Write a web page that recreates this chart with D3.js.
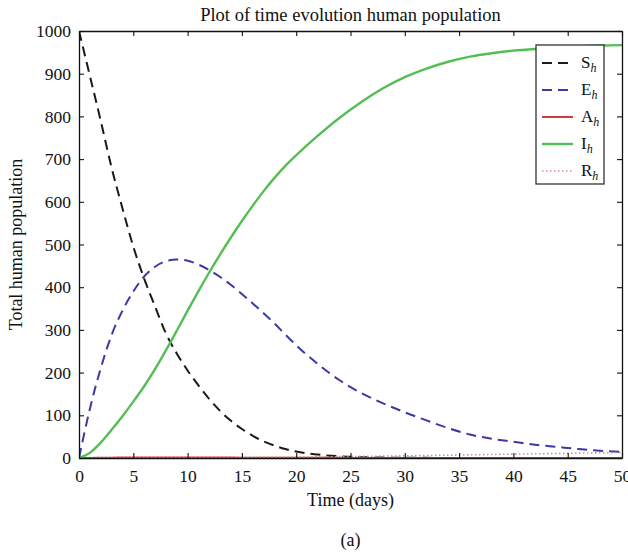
<!DOCTYPE html>
<html>
<head>
<meta charset="utf-8">
<script src="https://cdn.jsdelivr.net/npm/d3@7"></script>
<style>
    body { margin: 0; background: #fff; }
    text { font-family: "Liberation Serif", "DejaVu Serif", serif; fill: #111; }
</style>
</head>
<body>
<div id="chart"></div>
<script>
// Time points (days)
const days = [0, 1, 2, 3, 4, 5, 6, 7, 8, 9, 10, 11, 12, 13, 14, 15, 16, 17, 18, 19, 20,
    22, 24, 26, 28, 30, 32, 34, 36, 38, 40, 42, 44, 46, 48, 50];

// Series values
const sh = [1000, 895, 790, 680, 585, 495, 420, 355, 292, 245, 205, 170, 138, 110, 87, 68, 52, 39, 29, 21, 15,
    8, 4, 2, 1, 0.5, 0.3, 0.2, 0.1, 0, 0, 0, 0, 0, 0, 0];
const eh = [0, 115, 210, 288, 345, 390, 425, 448, 461, 465, 462, 453, 440, 424, 405, 384, 362, 339, 315, 289, 264,
    220, 182, 152, 128, 107, 88, 70, 55, 45, 38, 31, 26, 21, 17, 14];
const ah = [0, 0.2, 0.5, 0.8, 1, 1.2, 1.3, 1.4, 1.4, 1.4, 1.3, 1.2, 1.1, 1, 0.9, 0.8, 0.7, 0.6, 0.5, 0.5, 0.4,
    0.3, 0.3, 0.2, 0.2, 0.1, 0.1, 0.1, 0.1, 0, 0, 0, 0, 0, 0, 0];
const ih = [0, 12, 36, 66, 98, 132, 168, 208, 252, 298, 345, 391, 435, 477, 517, 555, 591, 625, 656, 684, 709,
    755, 797, 834, 866, 892, 912, 928, 940, 948, 954, 958, 961, 964, 966, 967];
const rh = [0, 0, 0, 0.1, 0.1, 0.2, 0.2, 0.3, 0.4, 0.5, 0.6, 0.7, 0.8, 0.9, 1, 1.2, 1.3, 1.5, 1.7, 1.9, 2.1,
    2.6, 3.2, 3.8, 4.4, 5.1, 5.8, 6.6, 7.4, 8.2, 9, 9.8, 10.6, 11.4, 12.2, 13];

const seriesNames = ["S", "E", "A", "I", "R"];
const xTicks = [0, 5, 10, 15, 20, 25, 30, 35, 40, 45, 50];
const yTicks = [0, 100, 200, 300, 400, 500, 600, 700, 800, 900, 1000];

const width = 628;
const height = 554;
const margin = { top: 31, right: 6, bottom: 96, left: 79 };

const svg = d3
    .select("#chart")
    .append("svg")
    .attr("width", width)
    .attr("height", height);

const x = d3
    .scaleLinear()
    .domain([0, 50])
    .range([margin.left, width - margin.right]);

const y = d3
    .scaleLinear()
    .domain([0, 1000])
    .range([height - margin.bottom, margin.top]);

// Line styles per series
const styles = [
    { values: sh, color: "#1a1a1a", width: 2, dash: "10,6" },
    { values: eh, color: "#3a3aa6", width: 2, dash: "10,6" },
    { values: ah, color: "#d33a3a", width: 2, dash: null },
    { values: ih, color: "#55bd55", width: 2.4, dash: null },
    { values: rh, color: "#d98a8a", width: 1.6, dash: "1.5,2.5" }
];

const line = d3
    .line()
    .x((d, i) => x(days[i]))
    .y((d) => y(d))
    .curve(d3.curveMonotoneX);

// Clip lines to the plot area
svg.append("defs")
    .append("clipPath")
    .attr("id", "plot-clip")
    .append("rect")
    .attr("x", x(0))
    .attr("y", y(1000))
    .attr("width", x(50) - x(0))
    .attr("height", y(0) - y(1000));

const plot = svg.append("g").attr("clip-path", "url(#plot-clip)");

styles.forEach((s) => {
    plot.append("path")
        .attr("d", line(s.values))
        .attr("fill", "none")
        .attr("stroke", s.color)
        .attr("stroke-width", s.width)
        .attr("stroke-dasharray", s.dash);
});

// Axes with inward ticks on all four sides
const tick = 5;
const fmt = d3.format("d");
svg.append("g")
    .attr("transform", `translate(0,${y(0)})`)
    .call(d3.axisBottom(x).tickValues(xTicks).tickFormat(fmt).tickSizeInner(-tick).tickSizeOuter(0).tickPadding(12));
svg.append("g")
    .attr("transform", `translate(0,${y(1000)})`)
    .call(d3.axisTop(x).tickValues(xTicks).tickSizeInner(-tick).tickSizeOuter(0).tickFormat(""));
svg.append("g")
    .attr("transform", `translate(${x(0)},0)`)
    .call(d3.axisLeft(y).tickValues(yTicks).tickFormat(fmt).tickSizeInner(-tick).tickSizeOuter(0).tickPadding(8));
svg.append("g")
    .attr("transform", `translate(${x(50)},0)`)
    .call(d3.axisRight(y).tickValues(yTicks).tickSizeInner(-tick).tickSizeOuter(0).tickFormat(""));

svg.selectAll(".domain").attr("stroke", "#111").attr("stroke-width", 1.3);
svg.selectAll(".tick line").attr("stroke", "#111").attr("stroke-width", 1.1);
svg.selectAll(".tick text")
    .style("font-family", "'Liberation Serif', serif")
    .style("font-size", "17.5px")
    .attr("fill", "#111");

// Title and axis labels
svg.append("text")
    .attr("x", (x(0) + x(50)) / 2)
    .attr("y", 21)
    .attr("text-anchor", "middle")
    .style("font-size", "18.5px")
    .text("Plot of time evolution human population");

svg.append("text")
    .attr("x", (x(0) + x(50)) / 2)
    .attr("y", 506)
    .attr("text-anchor", "middle")
    .style("font-size", "18px")
    .text("Time (days)");

svg.append("text")
    .attr("transform", `translate(22,${(y(0) + y(1000)) / 2}) rotate(-90)`)
    .attr("text-anchor", "middle")
    .style("font-size", "18px")
    .text("Total human population");

svg.append("text")
    .attr("x", (x(0) + x(50)) / 2)
    .attr("y", 546)
    .attr("text-anchor", "middle")
    .style("font-size", "18px")
    .text("(a)");

// Legend
const legend = svg.append("g").attr("transform", "translate(536,45)");
legend.append("rect")
    .attr("width", 68)
    .attr("height", 139)
    .attr("fill", "#fff")
    .attr("stroke", "#222")
    .attr("stroke-width", 1.2);

styles.forEach((s, i) => {
    const ly = 18 + i * 27;
    legend.append("line")
        .attr("x1", 6)
        .attr("x2", 37)
        .attr("y1", ly)
        .attr("y2", ly)
        .attr("stroke", s.color)
        .attr("stroke-width", s.width)
        .attr("stroke-dasharray", s.dash);
    const t = legend.append("text")
        .attr("x", 45)
        .attr("y", ly + 5)
        .style("font-size", "17px");
    t.append("tspan").text(seriesNames[i]);
    t.append("tspan")
        .attr("dy", 4)
        .style("font-size", "12px")
        .style("font-style", "italic")
        .text("h");
});
</script>
</body>
</html>
